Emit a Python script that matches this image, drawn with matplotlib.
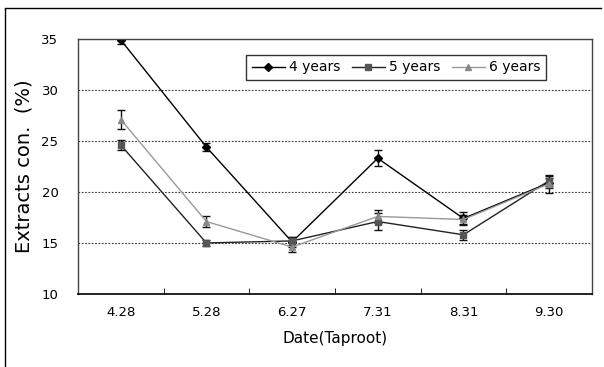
import matplotlib
matplotlib.use('Agg')
import matplotlib.pyplot as plt
from matplotlib.lines import Line2D

dates = ['4.28', '5.28', '6.27', '7.31', '8.31', '9.30']
y4 = [34.9, 24.4, 15.1, 23.3, 17.4, 20.9]
e4 = [0.4, 0.4, 0.5, 0.8, 0.6, 0.5]
y5 = [24.6, 15.0, 15.2, 17.1, 15.8, 21.1]
e5 = [0.5, 0.3, 0.4, 0.8, 0.5, 0.5]
y6 = [27.1, 17.1, 14.6, 17.6, 17.3, 20.8]
e6 = [0.9, 0.5, 0.5, 0.6, 0.4, 0.9]
labels = ['4 years', '5 years', '6 years']

fig = plt.figure(figsize=(6.04, 3.67), dpi=100)
ax = fig.add_axes([0.129, 0.199, 0.851, 0.695])
x = list(range(len(dates)))

styles = [('#000000', '#000000', 'D', 4), ('#222222', '#555555', 's', 4.5), ('#999999', '#888888', '^', 4.5)]
handles = []
for ys, es, lab, (lc, mc, mk, ms) in zip([y4, y5, y6], [e4, e5, e6], labels, styles):
    ax.errorbar(x, ys, yerr=es, color=lc, lw=1.0, marker=mk, ms=ms, mfc=mc, mec=mc,
                ecolor='#111111', elinewidth=1.0, capsize=3, capthick=1.0)
    handles.append(Line2D([], [], color=lc, lw=1.0, marker=mk, ms=ms, mfc=mc, mec=mc, label=lab))

ax.set_xlim(-0.5, 5.5)
ax.set_ylim(10, 35)
ax.set_yticks([10, 15, 20, 25, 30, 35])
ax.set_xticks(x)
ax.set_xticklabels(dates, fontsize=9.5)
ax.set_xticks([i + 0.5 for i in range(5)], minor=True)
ax.tick_params(axis='x', which='major', length=0, pad=9)
ax.tick_params(axis='x', which='minor', length=4, direction='in')
ax.tick_params(axis='y', length=0, labelsize=9.5, pad=14)
ax.yaxis.grid(True, linestyle=(0, (1.5, 1.5)), color='#333333', lw=0.8)
for s in ax.spines.values():
    s.set_color('#444444')
    s.set_linewidth(1.0)
ax.spines['bottom'].set_color('#111111')
ax.spines['bottom'].set_linewidth(1.3)
ax.set_ylabel('Extracts con.  (%)', fontsize=14, labelpad=6)
ax.set_xlabel('Date(Taproot)', fontsize=11, labelpad=8)

leg = ax.legend(handles=handles, ncol=3, loc='center', bbox_to_anchor=(0.619, 0.888), frameon=True,
                fancybox=False, fontsize=10, handlelength=2.4, handletextpad=0.3, columnspacing=0.8,
                borderpad=0.4, edgecolor='black')
leg.get_frame().set_linewidth(1.0)

# frame lines of the scanned figure
fig.add_artist(Line2D([0.008, 0.008], [0.0, 0.975], color='black', lw=1.0))
fig.add_artist(Line2D([0.008, 0.995], [0.978, 0.978], color='black', lw=1.0))

fig.savefig('out.png', dpi=100)
